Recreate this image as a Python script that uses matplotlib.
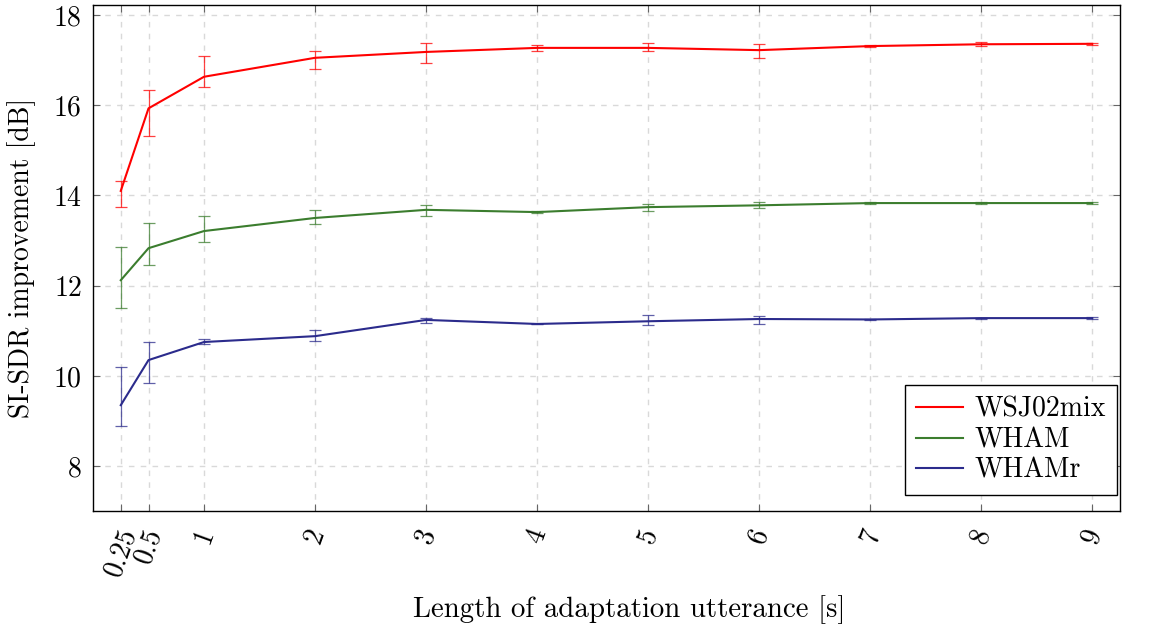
import numpy as np
import matplotlib as mpl
import matplotlib.pyplot as plt

mpl.rcParams['font.family'] = 'serif'
mpl.rcParams['font.serif'] = ['cmr10']
mpl.rcParams['mathtext.fontset'] = 'cm'
mpl.rcParams['axes.formatter.use_mathtext'] = True
mpl.rcParams['font.size'] = 20

# adaptation utterance length [s]
lengths = [0.25, 0.5, 1, 2, 3, 4, 5, 6, 7, 8, 9]
tick_labels = ['0.25', '0.5', '1', '2', '3', '4', '5', '6', '7', '8', '9']

# SI-SDR improvement [dB], with lower / upper ends of the error bars
wsj_mean = [14.10, 15.93, 16.63, 17.05, 17.18, 17.27, 17.27, 17.22, 17.31, 17.35, 17.36]
wsj_low  = [13.74, 15.32, 16.40, 16.80, 16.94, 17.20, 17.20, 17.05, 17.29, 17.31, 17.34]
wsj_high = [14.32, 16.34, 17.09, 17.20, 17.38, 17.33, 17.37, 17.36, 17.33, 17.39, 17.38]

wham_mean = [12.12, 12.83, 13.21, 13.50, 13.68, 13.63, 13.74, 13.78, 13.83, 13.83, 13.83]
wham_low  = [11.50, 12.46, 12.97, 13.37, 13.54, 13.60, 13.65, 13.72, 13.80, 13.81, 13.81]
wham_high = [12.86, 13.39, 13.54, 13.68, 13.79, 13.66, 13.81, 13.85, 13.86, 13.85, 13.85]

whamr_mean = [9.35, 10.35, 10.75, 10.88, 11.24, 11.15, 11.21, 11.26, 11.25, 11.28, 11.28]
whamr_low  = [8.89, 9.84, 10.70, 10.77, 11.17, 11.14, 11.13, 11.16, 11.23, 11.27, 11.26]
whamr_high = [10.20, 10.75, 10.82, 11.02, 11.28, 11.16, 11.35, 11.33, 11.27, 11.29, 11.30]

series = [
    ('WSJ02mix', wsj_mean, wsj_low, wsj_high, '#ff0000'),
    ('WHAM', wham_mean, wham_low, wham_high, '#3b7d2e'),
    ('WHAMr', whamr_mean, whamr_low, whamr_high, '#2b2b8c'),
]

fig = plt.figure(figsize=(11.54, 6.28), dpi=100)
ax = fig.add_axes([0.0806, 0.186, 0.8899, 0.806])

for name, m, lo, hi, c in series:
    m = np.array(m)
    err = [m - np.array(lo), np.array(hi) - m]
    ax.errorbar(lengths, m, yerr=err, fmt='none', ecolor=c, elinewidth=0.9,
                capsize=4, capthick=0.9, alpha=0.75, zorder=2)
    ax.plot(lengths, m, color=c, lw=1.5, label=name, zorder=3)

ax.set_xlim(0, 9.25)
ax.set_ylim(7, 18.22)
ax.set_xticks(lengths)
ax.set_xticklabels(tick_labels, rotation=70)
ax.set_yticks([8, 10, 12, 14, 16, 18])
ax.grid(True, ls=(0, (4, 4.5)), color='#d9d9d9', lw=1)
ax.set_axisbelow(True)
ax.tick_params(direction='in', top=True, right=True, length=5, color='#666666')
ax.tick_params(axis='y', pad=8)
ax.tick_params(axis='x', pad=10)
for s in ax.spines.values():
    s.set_linewidth(1.0)

ax.set_ylabel('SI-SDR improvement [dB]')
ax.yaxis.set_label_coords(-0.056, 0.5)
ax.set_xlabel('Length of adaptation utterance [s]', fontsize=20.8)
ax.xaxis.set_label_coords(0.522, -0.165)

leg = ax.legend(loc='lower right', bbox_to_anchor=(0.997, 0.032),
                borderaxespad=0, fancybox=False, edgecolor='black',
                framealpha=1, handlelength=1.7, labelspacing=0.15,
                borderpad=0.4, handletextpad=0.4)
leg.get_frame().set_linewidth(1.0)

fig.savefig('out.png', dpi=100)
